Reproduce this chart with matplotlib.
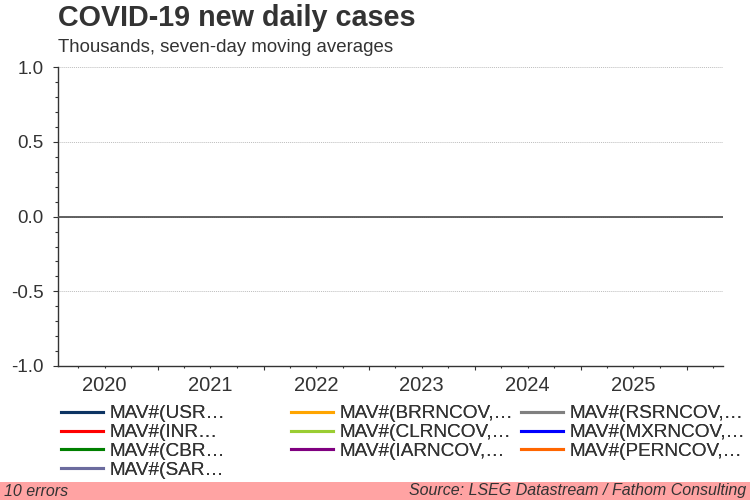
import matplotlib
matplotlib.use('Agg')
import matplotlib.pyplot as plt
import matplotlib.dates as mdates
from matplotlib.ticker import FuncFormatter, MultipleLocator
import datetime as dt

plt.rcParams['font.family'] = ['Liberation Sans', 'DejaVu Sans']

# series (all requests failed -> no values)
series_names = ['MAV#(USR…', 'MAV#(INR…', 'MAV#(CBR…', 'MAV#(SAR…',
                'MAV#(BRRNCOV,…', 'MAV#(CLRNCOV,…', 'MAV#(IARNCOV,…',
                'MAV#(RSRNCOV,…', 'MAV#(MXRNCOV,…', 'MAV#(PERNCOV,…']
series_colors = ['#0d3463', '#ff0000', '#008000', '#6b6b9e',
                 '#ffa500', '#9acd32', '#800080',
                 '#808080', '#0000ff', '#ff6600']
series_dates = [[] for _ in series_names]
series_values = [[] for _ in series_names]

start_date = dt.date(2020, 1, 22)
end_date = dt.date(2026, 5, 5)
y_min, y_max = -1.0, 1.0

fig = plt.figure(figsize=(7.5, 5), dpi=100)
ax = fig.add_axes([58/750, 1-366/500, (722.7-58)/750, (366-67.3)/500])

lines = []
for d, v, name, c in zip(series_dates, series_values, series_names, series_colors):
    ln, = ax.plot(d, v, color=c, lw=2.2, label=name)
    lines.append(ln)

ax.set_xlim(start_date, end_date)
ax.set_ylim(y_min, y_max)

ax.yaxis.set_major_locator(MultipleLocator(0.5))
ax.yaxis.set_minor_locator(MultipleLocator(0.1))
ax.yaxis.set_major_formatter(FuncFormatter(lambda v, p: f'{v:.1f}'))
ax.grid(axis='y', which='major', color='#bdbdbd', ls=(0, (1, 1)), lw=0.7)
ax.axhline(0, color='#555555', lw=1.3, zorder=3)

ax.xaxis.set_major_locator(mdates.YearLocator())
ax.xaxis.set_major_formatter(FuncFormatter(lambda v, p: ''))
ax.xaxis.set_minor_locator(mdates.MonthLocator(bymonth=[4, 7, 10]))
def year_label(v, p):
    d = mdates.num2date(v)
    return str(d.year) if d.month == 7 else ''
ax.xaxis.set_minor_formatter(FuncFormatter(year_label))

for s in ['top', 'right']:
    ax.spines[s].set_visible(False)
for s in ['left', 'bottom']:
    ax.spines[s].set_color('#333333')
    ax.spines[s].set_linewidth(1.0)

ax.tick_params(axis='y', which='major', length=3.5, width=0.8, color='#333333',
               labelsize=13.5, labelcolor='#333333', pad=7)
ax.tick_params(axis='y', which='minor', length=2, width=0.8, color='#333333')
ax.tick_params(axis='x', which='major', length=3, width=0.8, color='#333333')
ax.tick_params(axis='x', which='minor', length=1.5, width=0.8, color='#333333',
               labelsize=14.5, labelcolor='#333333', pad=6)

fig.text(58/750, 1-26/500, 'COVID-19 new daily cases', fontsize=20.7, fontweight='bold',
         color='#333333', va='baseline', ha='left')
fig.text(58/750, 1-52/500, 'Thousands, seven-day moving averages', fontsize=13.4,
         color='#333333', va='baseline', ha='left')

# legend: three fixed-width columns
cols = [lines[0:4], lines[4:7], lines[7:10]]
col_x = [61, 291, 521]
for hs, x in zip(cols, col_x):
    leg = fig.legend(handles=hs, loc='upper left', bbox_to_anchor=(x/750, 1-405/500),
                     frameon=False, fontsize=13.7, handlelength=2.2, handletextpad=0.35,
                     borderpad=0, borderaxespad=0, labelspacing=0.08,
                     labelcolor='#333333')
    fig.add_artist(leg)

# footer band
fig.patches.append(plt.Rectangle((0, 0), 1, 18/500, transform=fig.transFigure,
                                 facecolor='#ffa3a3', edgecolor='none', zorder=0))
fig.text(4/750, 9/500, '10 errors', fontsize=11.5, style='italic', color='#333333',
         va='center', ha='left')
fig.text(746/750, 9/500, 'Source: LSEG Datastream / Fathom Consulting', fontsize=11.5,
         style='italic', color='#333333', va='center', ha='right')

fig.savefig('out.png', dpi=100)
